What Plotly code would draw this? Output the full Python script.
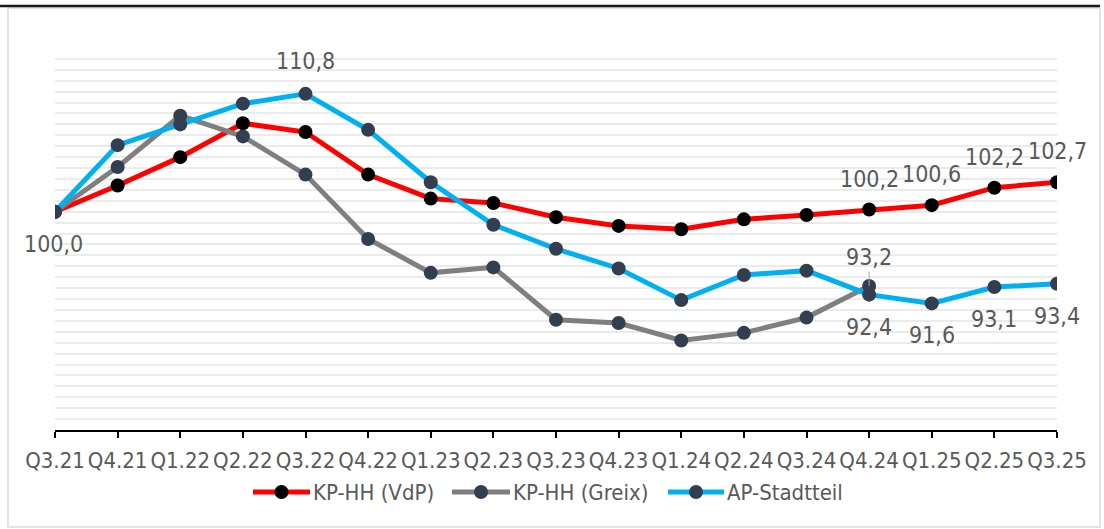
import plotly.graph_objects as go

# Quarterly index values (Q3.21 = 100)
quarters = ["Q3.21", "Q4.21", "Q1.22", "Q2.22", "Q3.22", "Q4.22", "Q1.23", "Q2.23",
            "Q3.23", "Q4.23", "Q1.24", "Q2.24", "Q3.24", "Q4.24", "Q1.25", "Q2.25", "Q3.25"]

kp_vdp = [100.0, 102.4, 105.0, 108.1, 107.3, 103.4, 101.2, 100.8,
          99.5, 98.7, 98.4, 99.3, 99.7, 100.2, 100.6, 102.2, 102.7]
kp_greix = [100.0, 104.1, 108.8, 106.9, 103.4, 97.5, 94.4, 94.9,
            90.1, 89.8, 88.2, 88.9, 90.3, 93.2]
ap_stadtteil = [100.0, 106.1, 108.0, 109.9, 110.8, 107.5, 102.7, 98.8,
                96.6, 94.8, 91.9, 94.2, 94.6, 92.4, 91.6, 93.1, 93.4]

series_names = ["KP-HH (VdP)", "KP-HH (Greix)", "AP-Stadtteil"]

W, H = 1104, 529
ML, MR, MT, MB = 55, 47, 48, 99
FONT = "Liberation Sans Narrow, Arial Narrow, DejaVu Sans Condensed, sans-serif"
TXT = "#595959"

x_idx = list(range(len(quarters)))

fig = go.Figure()

styles = [
    (kp_vdp, "#ff0000", "#000000"),
    (kp_greix, "#7f7f7f", "#333f50"),
    (ap_stadtteil, "#00b0f0", "#333f50"),
]
for name, (vals, lc, mc) in zip(series_names, styles):
    fig.add_trace(go.Scatter(
        x=x_idx[:len(vals)], y=vals, name=name, mode="lines+markers",
        line=dict(color=lc, width=5),
        marker=dict(color=mc, size=14),
        hoverinfo="skip", showlegend=False,
    ))


def fmt(v):
    return f"{v:.1f}".replace(".", ",")


def label(i, v, yshift, xshift=0, arrow=False):
    if arrow:
        fig.add_annotation(x=i, y=v, xref="x", yref="y", text=fmt(v),
                           showarrow=True, arrowhead=0, arrowwidth=1,
                           arrowcolor="#a6a6a6", ax=0, ay=-yshift,
                           standoff=0, font=dict(family=FONT, size=23, color=TXT))
    else:
        fig.add_annotation(x=i, y=v, xref="x", yref="y", text=fmt(v),
                           showarrow=False, yshift=yshift, xshift=xshift,
                           font=dict(family=FONT, size=23, color=TXT))


# data labels
label(0, kp_vdp[0], -32, -2)
label(4, ap_stadtteil[4], 33)
for i in (13, 14, 15, 16):
    label(i, kp_vdp[i], 31)
label(13, kp_greix[13], 29, arrow=True)
for i in (13, 14, 15, 16):
    label(i, ap_stadtteil[i], -32)


def px(xp):
    return (xp - ML) / (W - ML - MR)


def py(yp):
    return (H - MB - yp) / (H - MT - MB)


# frame around the chart area and dark top rule
fig.add_shape(type="rect", xref="paper", yref="paper",
              x0=px(8), x1=px(1100), y0=py(527), y1=py(8),
              line=dict(color="#e3e3e3", width=2), layer="below")
fig.add_shape(type="line", xref="paper", yref="paper",
              x0=px(0), x1=px(1100), y0=py(6), y1=py(6),
              line=dict(color="#1a1a1a", width=2.5))

# legend row: line sample with marker, then series name
legend_y = 492
legend_spans = [(253, 310), (452, 510), (668, 724)]
for name, (vals, lc, mc), (x0, x1) in zip(series_names, styles, legend_spans):
    fig.add_shape(type="line", xref="paper", yref="paper",
                  x0=px(x0), x1=px(x1), y0=py(legend_y), y1=py(legend_y),
                  line=dict(color=lc, width=5))
    xm = (x0 + x1) / 2
    fig.add_shape(type="circle", xref="paper", yref="paper",
                  x0=px(xm - 7), x1=px(xm + 7), y0=py(legend_y + 7), y1=py(legend_y - 7),
                  line=dict(width=0), fillcolor=mc)
    fig.add_annotation(xref="paper", yref="paper", x=px(x1 + 1), y=py(legend_y),
                       xanchor="left", yanchor="middle", showarrow=False, text=name,
                       font=dict(family=FONT, size=22, color=TXT))

fig.update_layout(
    width=W, height=H,
    margin=dict(l=ML, r=MR, t=MT, b=MB),
    paper_bgcolor="white", plot_bgcolor="white",
    font=dict(family=FONT, color=TXT),
    showlegend=False,
    xaxis=dict(range=[0, 16], tickmode="array", tickvals=x_idx, ticktext=quarters,
               showgrid=False, zeroline=False, showline=True, linecolor="#000000",
               linewidth=1.5, ticks="outside", ticklen=6, tickcolor="#000000",
               tickwidth=1.5, ticklabelstandoff=4,
               tickfont=dict(family=FONT, size=22, color=TXT)),
    yaxis=dict(range=[80, 115], dtick=1, tick0=80, showticklabels=False,
               gridcolor="#ebebeb", gridwidth=1.5, zeroline=False, showline=False),
)

fig.write_html("out.html")
